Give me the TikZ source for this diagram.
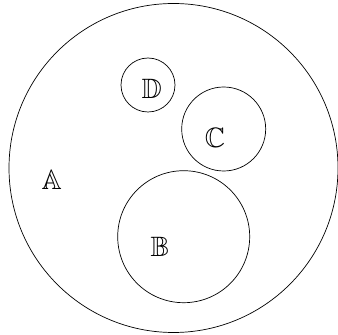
\documentclass[tikz,border=0pt]{standalone}
\usepackage{amsmath,amsfonts,amssymb}
\usetikzlibrary{positioning}

\tikzset{
    set/.style={draw, circle, inner sep=0pt, line width=0.7pt},
    setname/.style={inner sep=0pt, font=\fontsize{28}{28}\selectfont}
}

\begin{document}
\begin{tikzpicture}[x=1pt,y=1pt]
            \useasboundingbox (0,0) rectangle (338,335);
            \node[set,minimum size=329pt] (A) at (173.5,167) {};
            \node[set,minimum size=54pt] (D) at (148,250) {};
            \node[set,minimum size=84pt] (C) at (223.7,206) {};
            \node[set,minimum size=132pt] (B) at (183.7,98.3) {};
            \node[setname] (a) at (51.7,155) {$\mathbb{A}$};
            \node[setname] (b) at (160,88.3) {$\mathbb{B}$};
            \node[setname] (c) at (215,197) {$\mathbb{C}$};
            \node[setname] (d) at (151.7,246) {$\mathbb{D}$};
        \end{tikzpicture}
\end{document}
